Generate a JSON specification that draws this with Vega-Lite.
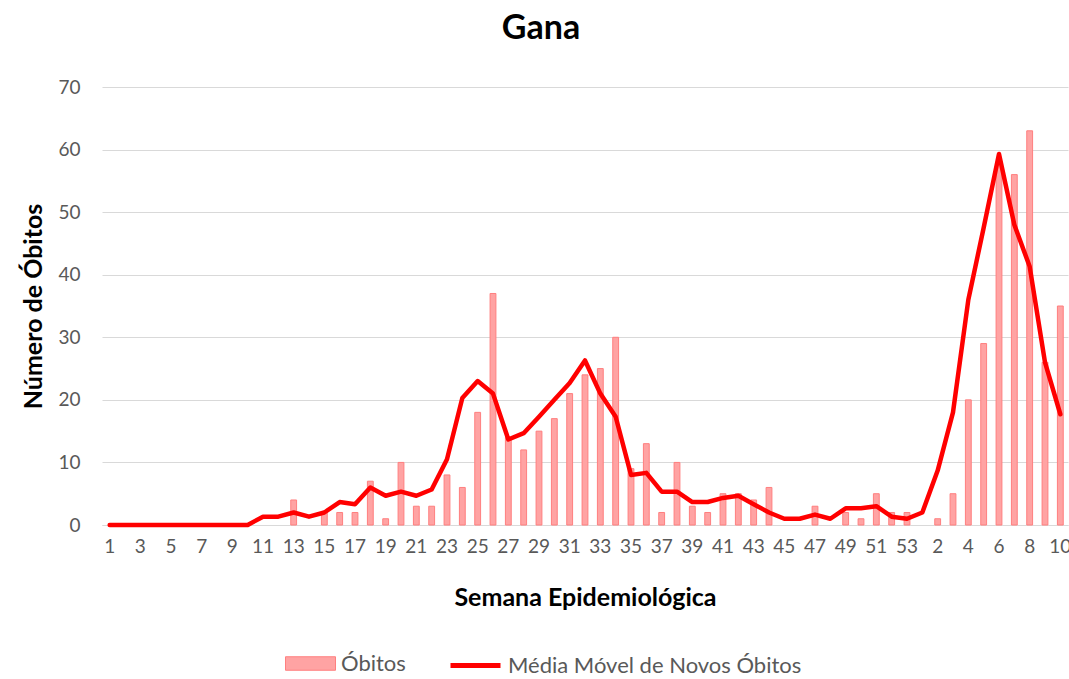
{
  "$schema": "https://vega.github.io/schema/vega-lite/v6.json",
  "autosize": "none",
  "width": 966,
  "height": 438,
  "padding": {"left": 102, "top": 87, "right": 1, "bottom": 154},
  "background": "#ffffff",
  "config": {
    "view": {"stroke": null},
    "font": "Lato"
  },
  "title": {
    "text": "Gana",
    "font": "Lato",
    "fontSize": 34,
    "fontWeight": "bold",
    "color": "#000000",
    "anchor": "middle",
    "baseline": "alphabetic",
    "offset": 5,
    "dx": -44
  },
  "data": {
    "values": [
      {"i": 1, "semana": 1, "obitos": 0, "media": 0},
      {"i": 2, "semana": 2, "obitos": 0, "media": 0},
      {"i": 3, "semana": 3, "obitos": 0, "media": 0},
      {"i": 4, "semana": 4, "obitos": 0, "media": 0},
      {"i": 5, "semana": 5, "obitos": 0, "media": 0},
      {"i": 6, "semana": 6, "obitos": 0, "media": 0},
      {"i": 7, "semana": 7, "obitos": 0, "media": 0},
      {"i": 8, "semana": 8, "obitos": 0, "media": 0},
      {"i": 9, "semana": 9, "obitos": 0, "media": 0},
      {"i": 10, "semana": 10, "obitos": 0, "media": 0},
      {"i": 11, "semana": 11, "obitos": 0, "media": 1.33},
      {"i": 12, "semana": 12, "obitos": 0, "media": 1.33},
      {"i": 13, "semana": 13, "obitos": 4, "media": 2},
      {"i": 14, "semana": 14, "obitos": 0, "media": 1.33},
      {"i": 15, "semana": 15, "obitos": 2, "media": 2},
      {"i": 16, "semana": 16, "obitos": 2, "media": 3.67},
      {"i": 17, "semana": 17, "obitos": 2, "media": 3.33},
      {"i": 18, "semana": 18, "obitos": 7, "media": 6},
      {"i": 19, "semana": 19, "obitos": 1, "media": 4.67},
      {"i": 20, "semana": 20, "obitos": 10, "media": 5.33},
      {"i": 21, "semana": 21, "obitos": 3, "media": 4.67},
      {"i": 22, "semana": 22, "obitos": 3, "media": 5.67},
      {"i": 23, "semana": 23, "obitos": 8, "media": 10.5},
      {"i": 24, "semana": 24, "obitos": 6, "media": 20.3},
      {"i": 25, "semana": 25, "obitos": 18, "media": 23},
      {"i": 26, "semana": 26, "obitos": 37, "media": 21},
      {"i": 27, "semana": 27, "obitos": 14, "media": 13.67},
      {"i": 28, "semana": 28, "obitos": 12, "media": 14.67},
      {"i": 29, "semana": 29, "obitos": 15, "media": 17.3},
      {"i": 30, "semana": 30, "obitos": 17, "media": 20},
      {"i": 31, "semana": 31, "obitos": 21, "media": 22.7},
      {"i": 32, "semana": 32, "obitos": 24, "media": 26.3},
      {"i": 33, "semana": 33, "obitos": 25, "media": 21},
      {"i": 34, "semana": 34, "obitos": 30, "media": 17.3},
      {"i": 35, "semana": 35, "obitos": 9, "media": 8},
      {"i": 36, "semana": 36, "obitos": 13, "media": 8.33},
      {"i": 37, "semana": 37, "obitos": 2, "media": 5.33},
      {"i": 38, "semana": 38, "obitos": 10, "media": 5.33},
      {"i": 39, "semana": 39, "obitos": 3, "media": 3.67},
      {"i": 40, "semana": 40, "obitos": 2, "media": 3.67},
      {"i": 41, "semana": 41, "obitos": 5, "media": 4.33},
      {"i": 42, "semana": 42, "obitos": 5, "media": 4.67},
      {"i": 43, "semana": 43, "obitos": 4, "media": 3.33},
      {"i": 44, "semana": 44, "obitos": 6, "media": 2},
      {"i": 45, "semana": 45, "obitos": 0, "media": 1},
      {"i": 46, "semana": 46, "obitos": 0, "media": 1},
      {"i": 47, "semana": 47, "obitos": 3, "media": 1.67},
      {"i": 48, "semana": 48, "obitos": 0, "media": 1},
      {"i": 49, "semana": 49, "obitos": 2, "media": 2.67},
      {"i": 50, "semana": 50, "obitos": 1, "media": 2.67},
      {"i": 51, "semana": 51, "obitos": 5, "media": 3},
      {"i": 52, "semana": 52, "obitos": 2, "media": 1.33},
      {"i": 53, "semana": 53, "obitos": 2, "media": 1},
      {"i": 54, "semana": 1, "obitos": 0, "media": 2},
      {"i": 55, "semana": 2, "obitos": 1, "media": 8.7},
      {"i": 56, "semana": 3, "obitos": 5, "media": 18},
      {"i": 57, "semana": 4, "obitos": 20, "media": 36},
      {"i": 58, "semana": 5, "obitos": 29, "media": 47.5},
      {"i": 59, "semana": 6, "obitos": 58, "media": 59.3},
      {"i": 60, "semana": 7, "obitos": 56, "media": 48},
      {"i": 61, "semana": 8, "obitos": 63, "media": 41.3},
      {"i": 62, "semana": 9, "obitos": 26, "media": 26},
      {"i": 63, "semana": 10, "obitos": 35, "media": 17.7}
    ]
  },
  "encoding": {
    "x": {
      "field": "i",
      "type": "ordinal",
      "scale": {"paddingInner": 0, "paddingOuter": 0},
      "axis": {
        "title": "Semana Epidemiológica",
        "titleFont": "Lato",
        "titleFontSize": 25,
        "titleFontWeight": "bold",
        "titleColor": "#000000",
        "titleBaseline": "middle",
        "titleY": 72,
        "labelAngle": 0,
        "labelFont": "Lato",
        "labelFontSize": 19,
        "labelColor": "#595959",
        "labelPadding": 12,
        "labelExpr": "datum.value % 2 == 1 ? (datum.value > 53 ? '' + (datum.value - 53) : '' + datum.value) : ''",
        "labelOverlap": false,
        "ticks": false,
        "domain": true,
        "domainColor": "#D9D9D9",
        "domainWidth": 1,
        "grid": false
      }
    }
  },
  "layer": [
    {
      "transform": [{"filter": "datum.obitos > 0"}],
      "mark": {"type": "bar", "width": {"band": 0.38}, "stroke": "#FF7F7F", "strokeWidth": 1, "fillOpacity": 1},
      "encoding": {
        "y": {
          "field": "obitos",
          "type": "quantitative",
          "scale": {"domain": [0, 70]},
          "axis": {
            "title": "Número de Óbitos",
            "titleFont": "Lato",
            "titleFontSize": 25,
            "titleFontWeight": "bold",
            "titleColor": "#000000",
            "titleAngle": -90,
            "titleX": -69,
            "titleY": 219,
            "titleAlign": "center",
            "titleBaseline": "middle",
            "values": [0, 10, 20, 30, 40, 50, 60, 70],
            "labelFont": "Lato",
            "labelFontSize": 19,
            "labelColor": "#595959",
            "labelPadding": 22,
            "ticks": false,
            "domain": false,
            "grid": true,
            "gridColor": "#D9D9D9",
            "gridWidth": 1
          }
        },
        "fill": {
          "datum": "Óbitos",
          "scale": {"range": ["#FFA3A3"]},
          "legend": {
            "title": null,
            "orient": "none",
            "legendX": 183,
            "legendY": 551,
            "symbolType": "M-1,-0.27H1V0.27H-1Z",
            "symbolSize": 2500,
            "symbolStrokeColor": "#FF7F7F",
            "symbolStrokeWidth": 1,
            "symbolOpacity": 1,
            "labelFont": "Lato",
            "labelFontSize": 22,
            "labelColor": "#595959",
            "labelOffset": 5,
            "labelLimit": 400
          }
        }
      }
    },
    {
      "mark": {"type": "line", "strokeWidth": 4.5, "strokeJoin": "round", "strokeCap": "round"},
      "encoding": {
        "y": {"field": "media", "type": "quantitative"},
        "stroke": {
          "datum": "Média Móvel de Novos Óbitos",
          "scale": {"range": ["#FF0000"]},
          "legend": {
            "title": null,
            "orient": "none",
            "legendX": 346,
            "legendY": 551,
            "symbolType": "stroke",
            "symbolSize": 2500,
            "symbolStrokeWidth": 5,
            "labelFont": "Lato",
            "labelFontSize": 22,
            "labelColor": "#595959",
            "labelOffset": 5,
            "labelLimit": 400
          }
        }
      }
    }
  ]
}
